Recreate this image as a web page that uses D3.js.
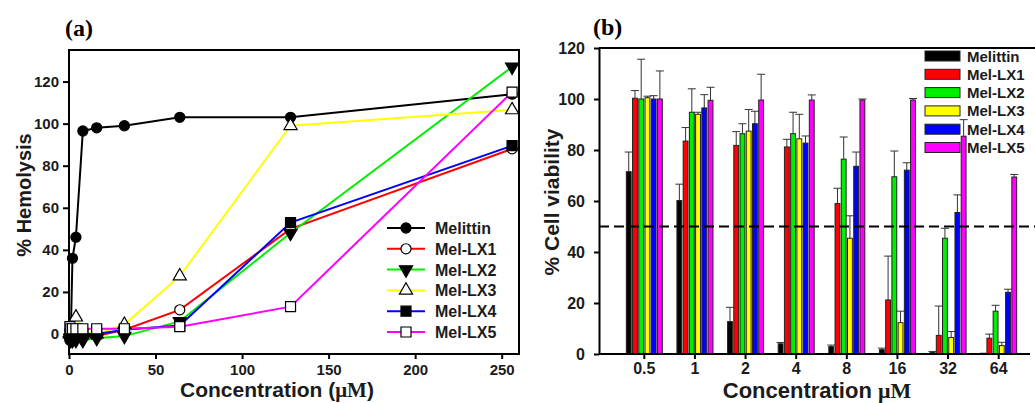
<!DOCTYPE html>
<meta charset="utf-8">
<title>Hemolysis and cell viability</title>
<style>
  body { margin: 0; background: #fff; }
  text { font-family: "Liberation Sans", Arial, sans-serif; font-weight: bold; fill: #1b1b1b; }
  .panel { font-family: "Liberation Serif", "Times New Roman", serif; font-size: 24px; fill: #000; }
  .axis path, .axis line { stroke: #000; stroke-width: 2px; }
  .axis text { font-size: 15px; fill: #1b1b1b; }
  .frame { fill: none; stroke: #000; stroke-width: 2px; }
  .series { fill: none; stroke-width: 2px; }
  .err { stroke: #333; stroke-width: 1px; }
</style>
<svg width="1035" height="403"></svg>
<script src="https://d3js.org/d3.v7.min.js"></script>
<script>
  // ---- panel (a): hemolysis ----
  var hemoConc = [0.5, 1, 2, 4, 8, 16, 32, 64, 128, 256];
  var hemoMelittin = [-3, -1, 36, 46, 96.5, 98, 99, 103, 103, 114];
  var hemoLX1 = [-1, -1, -1, -1, -1, -1, 2, 11.5, 50, 88];
  var hemoLX2 = [-3, -3, -3, -3, -3, -2, -1, 6, 48, 127];
  var hemoLX3 = [0, 1, 2, 8, 1, 0, 4.5, 27.5, 99, 106.5];
  var hemoLX4 = [0, 0, 0, 0, 0, 0, 2, 4, 53, 89.5];
  var hemoLX5 = [3.5, 2.5, 2.5, 2.5, 2.5, 2.5, 2.5, 3.5, 13, 115];
  var hemoXTicks = [0, 50, 100, 150, 200, 250];
  var hemoYTicks = [0, 20, 40, 60, 80, 100, 120];

  // ---- panel (b): cell viability ----
  var viaConc = ["0.5", "1", "2", "4", "8", "16", "32", "64"];
  var viaMelittin = [71.5, 60.2, 12.7, 4.0, 2.9, 1.7, 0.6, 0.3];
  var viaMelittinErr = [7.7, 6.4, 5.6, 0.5, 0.6, 0.6, 0.4, 0];
  var viaLX1 = [100.3, 83.5, 81.8, 81.2, 59, 21.2, 7.3, 6.2];
  var viaLX1Err = [3, 5.3, 5.4, 3, 6, 17.2, 11.5, 1.6];
  var viaLX2 = [100, 94.8, 86.4, 86.4, 76.4, 69.5, 45.4, 16.8];
  var viaLX2Err = [15.6, 9.2, 3.9, 8.4, 8.7, 10.1, 3.9, 2.3];
  var viaLX3 = [100.5, 94, 87.4, 84.4, 45.4, 12.3, 6.5, 3.3];
  var viaLX3Err = [0.6, 0.8, 8.5, 9.6, 8.8, 4.5, 2.3, 1.3];
  var viaLX4 = [100, 96.5, 90.3, 82.7, 73.6, 72.1, 55.5, 24.2];
  var viaLX4Err = [1.3, 5.2, 4.9, 2.8, 5.6, 2.9, 6.9, 1.2];
  var viaLX5 = [100, 99.5, 99.6, 99.6, 99.6, 99.6, 85.4, 69.4];
  var viaLX5Err = [11, 5.1, 10.1, 2, 0.4, 0.6, 6.5, 1];
  var viaYTicks = [0, 20, 40, 60, 80, 100, 120];

  var names = ["Melittin", "Mel-LX1", "Mel-LX2", "Mel-LX3", "Mel-LX4", "Mel-LX5"];
  var colors = ["#000000", "#ff0000", "#00ee00", "#ffff00", "#0000ff", "#ff00ff"];

  var svg = d3.select("svg");

  // =========== (a) ===========
  var ga = svg.append("g");
  var xa = d3.scaleLinear().domain([0, 260]).range([69, 519]);
  var ya = d3.scaleLinear().domain([-9.5, 135]).range([354, 50]);

  ga.append("rect").attr("class", "frame")
    .attr("x", xa.range()[0]).attr("y", ya.range()[1])
    .attr("width", xa.range()[1] - xa.range()[0])
    .attr("height", ya.range()[0] - ya.range()[1]);

  ga.append("g").attr("class", "axis")
    .attr("transform", "translate(0," + ya.range()[0] + ")")
    .call(d3.axisBottom(xa).tickValues(hemoXTicks).tickSize(5).tickPadding(5))
    .call(g => g.select(".domain").remove());

  ga.append("g").attr("class", "axis")
    .attr("transform", "translate(" + xa.range()[0] + ",0)")
    .call(d3.axisLeft(ya).tickValues(hemoYTicks).tickSize(6).tickPadding(4))
    .call(g => g.select(".domain").remove());

  var hemoSeries = [hemoMelittin, hemoLX1, hemoLX2, hemoLX3, hemoLX4, hemoLX5];
  // marker shape, rotation, filled
  var markers = [
    { type: d3.symbolCircle, size: 80, rot: 0, fill: true },
    { type: d3.symbolCircle, size: 80, rot: 0, fill: false },
    { type: d3.symbolTriangle, size: 75, rot: 180, fill: true },
    { type: d3.symbolTriangle, size: 75, rot: 0, fill: false },
    { type: d3.symbolSquare, size: 100, rot: 0, fill: true },
    { type: d3.symbolSquare, size: 100, rot: 0, fill: false }
  ];

  var line = d3.line().x(d => xa(d[0])).y(d => ya(d[1]));

  function drawMarker(g, m, x, y) {
    g.append("path")
      .attr("d", d3.symbol().type(m.type).size(m.size)())
      .attr("transform", "translate(" + x + "," + y + ") rotate(" + m.rot + ")")
      .attr("fill", m.fill ? "#000" : "#fff")
      .attr("stroke", "#000")
      .attr("stroke-width", 1.2);
  }

  hemoSeries.forEach(function (vals, i) {
    var pts = hemoConc.map((c, j) => [c, vals[j]]);
    ga.append("path").datum(pts)
      .attr("class", "series")
      .attr("stroke", colors[i])
      .attr("d", line);
  });
  hemoSeries.forEach(function (vals, i) {
    hemoConc.forEach(function (c, j) {
      drawMarker(ga, markers[i], xa(c), ya(vals[j]));
    });
  });

  // legend (a)
  names.forEach(function (n, i) {
    var y = 228 + i * 20.8;
    ga.append("line").attr("x1", 387).attr("x2", 425).attr("y1", y).attr("y2", y)
      .attr("stroke", colors[i]).attr("stroke-width", 2);
    drawMarker(ga, markers[i], 406, y);
    ga.append("text").attr("x", 435).attr("y", y + 6)
      .style("font-size", "16px").text(n);
  });

  ga.append("text").attr("class", "panel").attr("x", 65).attr("y", 36).text("(a)");
  ga.append("text").attr("transform", "translate(31,195) rotate(-90)")
    .attr("text-anchor", "middle").style("font-size", "20px").text("% Hemolysis");
  var ta = ga.append("text").attr("x", 277).attr("y", 397)
    .attr("text-anchor", "middle").style("font-size", "21px");
  ta.append("tspan").text("Concentration (");
  ta.append("tspan").style("font-family", "'Liberation Serif', serif").text("\u03bcM");
  ta.append("tspan").text(")");

  // =========== (b) ===========
  var gb = svg.append("g");
  var xb = d3.scaleBand().domain(viaConc).range([619, 1024]);
  var xInner = d3.scaleBand().domain(names).range([-18, 18]).paddingInner(0.22);
  var yb = d3.scaleLinear().domain([0, 120]).range([354, 48]);

  var viaSeries = [viaMelittin, viaLX1, viaLX2, viaLX3, viaLX4, viaLX5];
  var viaErr = [viaMelittinErr, viaLX1Err, viaLX2Err, viaLX3Err, viaLX4Err, viaLX5Err];

  // top frame line
  gb.append("line").attr("x1", 599).attr("x2", 1035).attr("y1", 48).attr("y2", 48)
    .attr("stroke", "#000").attr("stroke-width", 2);

  viaSeries.forEach(function (vals, i) {
    var g = gb.append("g");
    viaConc.forEach(function (c, j) {
      var x0 = xb(c) + xb.bandwidth() / 2 + xInner(names[i]);
      var w = xInner.bandwidth();
      var top = vals[j] + viaErr[i][j];
      if (viaErr[i][j] > 0) {
        g.append("line").attr("class", "err")
          .attr("x1", x0 + w / 2).attr("x2", x0 + w / 2)
          .attr("y1", yb(vals[j])).attr("y2", yb(top));
        g.append("line").attr("class", "err")
          .attr("x1", x0 + w / 2 - 4).attr("x2", x0 + w / 2 + 4)
          .attr("y1", yb(top)).attr("y2", yb(top));
      }
      g.append("rect")
        .attr("x", x0).attr("y", yb(vals[j]))
        .attr("width", w).attr("height", yb(0) - yb(vals[j]))
        .attr("fill", colors[i]).attr("stroke", "#222").attr("stroke-width", 1);
    });
  });

  // 50% reference line
  gb.append("line").attr("x1", 599).attr("x2", 1035)
    .attr("y1", yb(50)).attr("y2", yb(50))
    .attr("stroke", "#000").attr("stroke-width", 2).attr("stroke-dasharray", "10,5");

  gb.append("g").attr("class", "axis")
    .attr("transform", "translate(0," + yb(0) + ")")
    .call(d3.axisBottom(xb).tickSize(5).tickPadding(4).tickSizeOuter(0))
    .call(g => g.select(".domain").attr("d", "M599,0H1030"))
    .call(g => g.selectAll("text").style("font-size", "16px"));

  gb.append("g").attr("class", "axis")
    .attr("transform", "translate(599,0)")
    .call(d3.axisLeft(yb).tickValues(viaYTicks).tickSize(5).tickPadding(9).tickSizeOuter(0))
    .call(g => g.selectAll("text").style("font-size", "16px"));

  // legend (b)
  names.forEach(function (n, i) {
    var y = 56 + i * 18.3;
    gb.append("rect").attr("x", 925).attr("y", y - 5).attr("width", 35).attr("height", 10)
      .attr("fill", colors[i]).attr("stroke", "#222").attr("stroke-width", 1);
    gb.append("text").attr("x", 967).attr("y", y + 5.5)
      .style("font-size", "15px").text(n);
  });

  gb.append("text").attr("class", "panel").attr("x", 593).attr("y", 35).text("(b)");
  gb.append("text").attr("transform", "translate(559,202) rotate(-90)")
    .attr("text-anchor", "middle").style("font-size", "21px").text("% Cell viability");
  var tb = gb.append("text").attr("x", 817).attr("y", 398)
    .attr("text-anchor", "middle").style("font-size", "22px");
  tb.append("tspan").text("Concentration ");
  tb.append("tspan").style("font-family", "'Liberation Serif', serif").text("\u03bcM");
</script>
